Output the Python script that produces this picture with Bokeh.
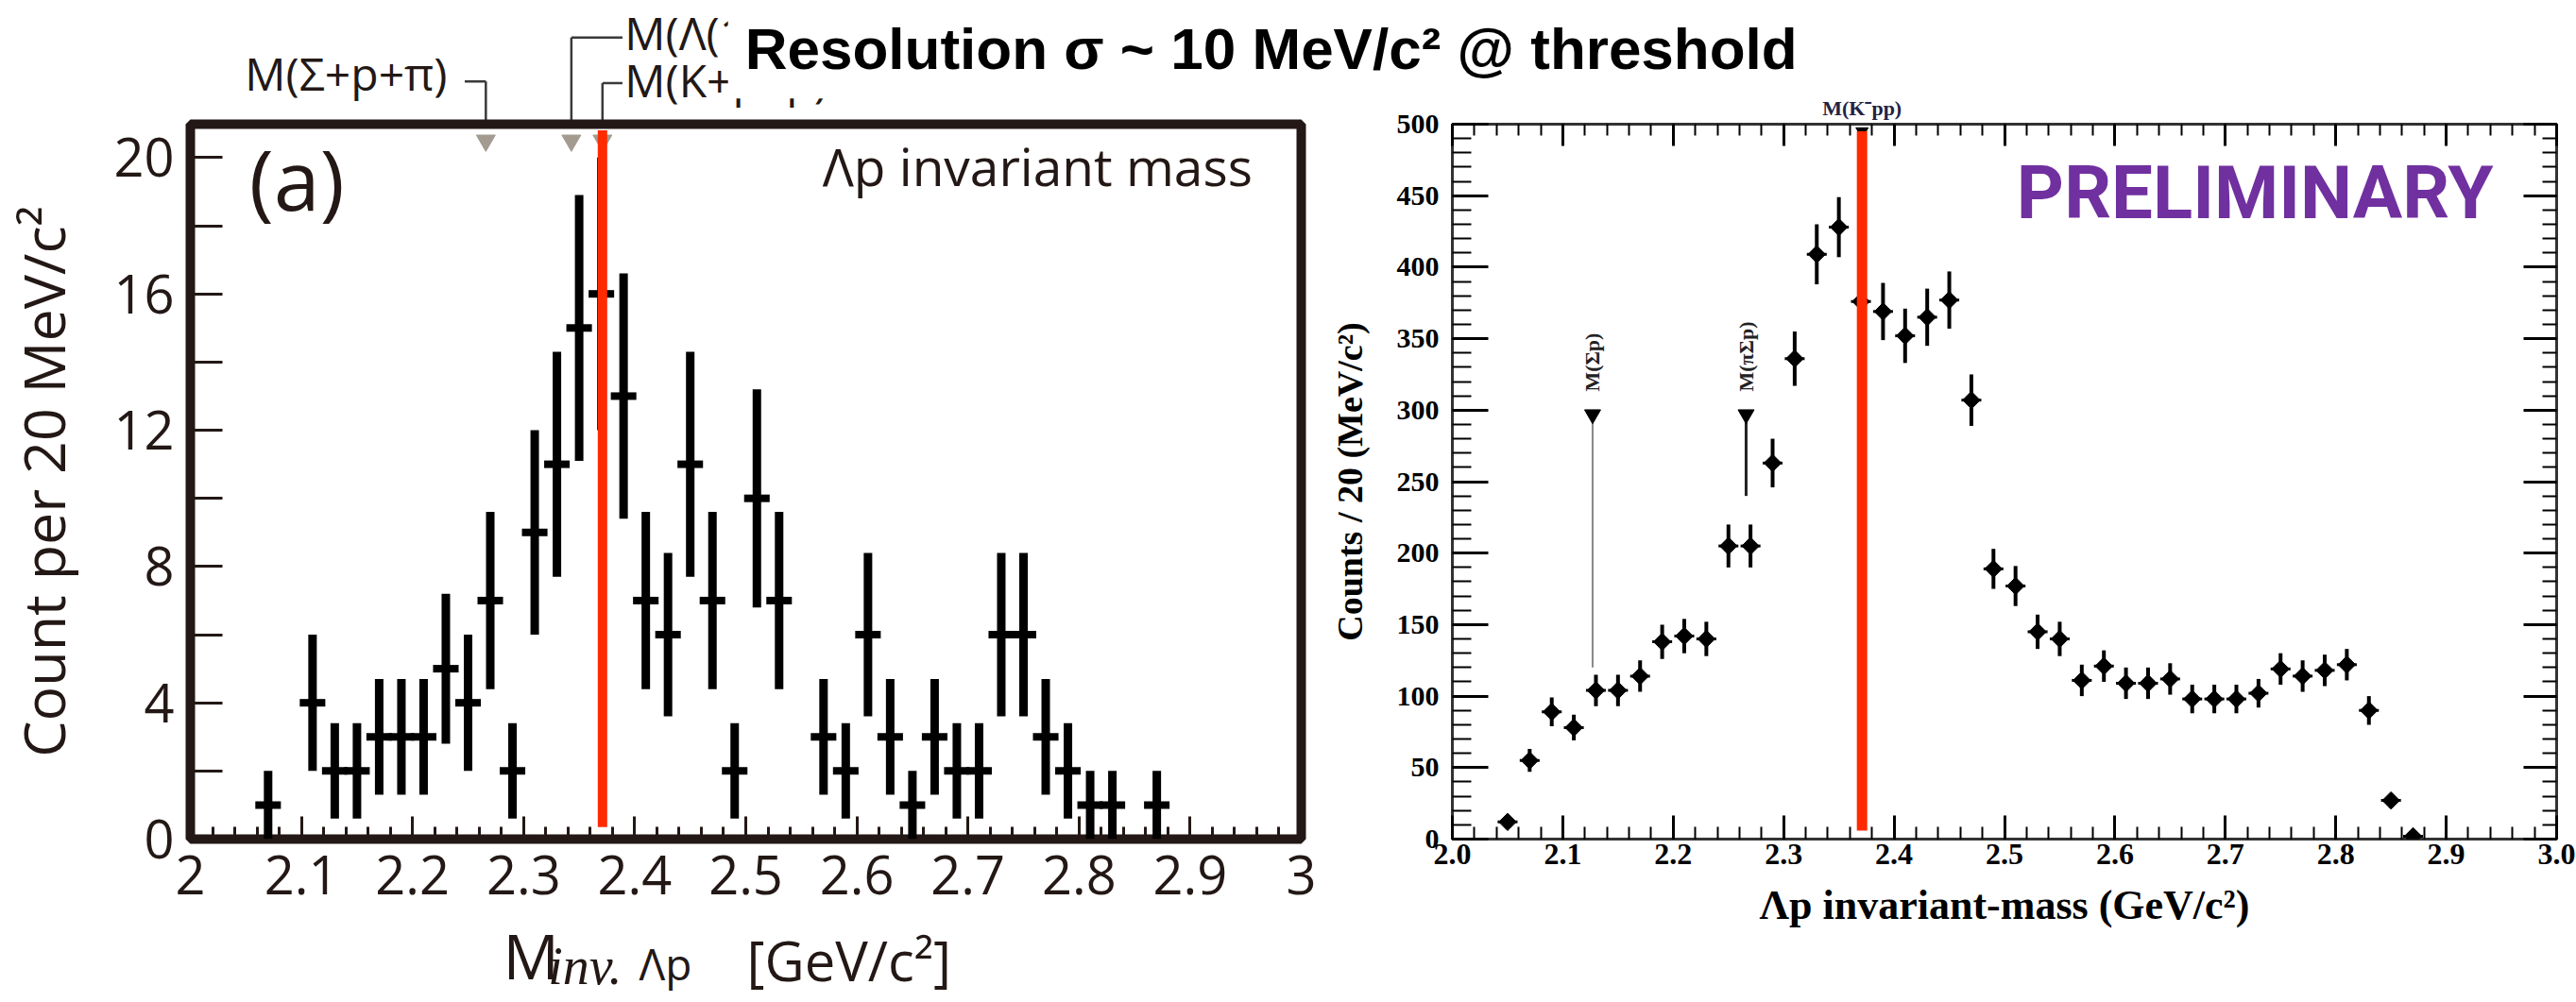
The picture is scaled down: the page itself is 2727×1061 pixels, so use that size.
import numpy as np
from bokeh.plotting import figure
from bokeh.models import (Range1d, FixedTicker, LinearAxis, Label, Arrow, CustomJSTickFormatter,
                          PrintfTickFormatter, ColumnDataSource)
from bokeh.layouts import row, column
from bokeh.embed import file_html
from bokeh.resources import INLINE

# ---------------- data: left panel (Lambda p invariant mass, counts per 20 MeV) ----------------
left_mass = [2.07, 2.11, 2.13, 2.15, 2.17, 2.19, 2.21, 2.23, 2.25, 2.27,
             2.29, 2.31, 2.33, 2.35, 2.37, 2.39, 2.41, 2.43, 2.45, 2.47,
             2.49, 2.51, 2.53, 2.57, 2.59, 2.61, 2.63, 2.65, 2.67, 2.69,
             2.71, 2.73, 2.75, 2.77, 2.79, 2.81, 2.83, 2.87]
left_counts = [1, 4, 2, 2, 3, 3, 3, 5, 4, 7,
               2, 9, 11, 15, 16, 13, 7, 6, 11, 7,
               2, 10, 7, 3, 2, 6, 3, 1, 3, 2,
               2, 6, 6, 3, 2, 1, 1, 1]
left_err = [1.0, 2.0, 1.4, 1.4, 1.7, 1.7, 1.7, 2.2, 2.0, 2.6,
            1.4, 3.0, 3.3, 3.9, 4.0, 3.6, 2.6, 2.4, 3.3, 2.6,
            1.4, 3.2, 2.6, 1.7, 1.4, 2.4, 1.7, 1.0, 1.7, 1.4,
            1.4, 2.4, 2.4, 1.7, 1.4, 1.0, 1.0, 1.0]

# ---------------- data: right panel ----------------
right_mass = [2.05, 2.07, 2.09, 2.11, 2.13, 2.15, 2.17, 2.19, 2.21, 2.23,
              2.25, 2.27, 2.29, 2.31, 2.33, 2.35, 2.37, 2.39, 2.41, 2.43,
              2.45, 2.47, 2.49, 2.51, 2.53, 2.55, 2.57, 2.59, 2.61, 2.63,
              2.65, 2.67, 2.69, 2.71, 2.73, 2.75, 2.77, 2.79, 2.81, 2.83,
              2.85, 2.87]
right_counts = [12, 55, 89, 78, 104, 104, 114, 138, 142, 140,
                205, 205, 263, 336, 409, 428, 376, 369, 352, 365,
                377, 307, 189, 177, 145, 140, 111, 121, 109, 109,
                112, 98, 98, 98, 102, 119, 114, 118, 122, 90,
                27, 2]
right_err = [4, 8, 10, 9, 11, 11, 11, 12, 12, 12,
             15, 15, 17, 19, 21, 21, 20, 20, 19, 20,
             20, 18, 14, 14, 12, 12, 11, 11, 11, 11,
             11, 10, 10, 10, 10, 11, 11, 11, 11, 10,
             5, 1]

# thresholds (GeV/c^2)
m_kpp = 2.371          # M(K- p p)
m_sigma_p = 2.127      # M(Sigma p)
m_pi_sigma_p = 2.266   # M(pi Sigma p)
m_lambda1405_p = 2.343 # M(Lambda(1405)+p)

# ticks
left_xticks = [2.0, 2.1, 2.2, 2.3, 2.4, 2.5, 2.6, 2.7, 2.8, 2.9, 3.0]
left_xminor = [round(2.0 + 0.02 * i, 2) for i in range(51)]
left_yticks = [0, 4, 8, 12, 16, 20]
left_yminor = [2, 6, 10, 14, 18]
right_xticks = left_xticks
right_xminor = left_xminor
right_yticks = [0, 50, 100, 150, 200, 250, 300, 350, 400, 450, 500]
right_yminor = [10 * i for i in range(51)]

DARK = "#231815"
RED = "#ff2a00"
LFONT = "Open Sans"
RFONT = "Liberation Serif"
W, H = 2727, 1061

# ---------------- geometry of the two panels ----------------
L_W, L_LEFT, L_RIGHT, L_TOP, L_BOT = 1400, 201, 23, 130, 170
L_YMAX = 20.98
R_W, R_LEFT, R_RIGHT, R_TOP, R_BOT = W - L_W, 137, 21, 131, 173
L_PX = (L_W - L_LEFT - L_RIGHT)            # px per GeV in left panel
L_PY = (H - L_TOP - L_BOT) / L_YMAX        # px per count in left panel
R_PX = (R_W - R_LEFT - R_RIGHT)
R_PY = (H - R_TOP - R_BOT) / 500.0


def right_to_left(x, y):
    """Convert right-panel data coords to the (extended) left-panel data coords."""
    sx = L_W + R_LEFT + (x - 2.0) * R_PX
    sy = R_TOP + (500.0 - y) * R_PY
    return 2.0 + (sx - L_LEFT) / L_PX, (H - L_BOT - sy) / L_PY


# ======================= BACKGROUND (texts outside the frames) =======================
bg = figure(width=W, height=H, output_backend="svg", toolbar_location=None,
            x_range=Range1d(2.0 - L_LEFT / L_PX, 2.0 + (W - L_LEFT) / L_PX),
            y_range=Range1d(-L_BOT / L_PY, (H - L_BOT) / L_PY),
            x_axis_location=None, y_axis_location=None, min_border=0)
bg.grid.visible = False
bg.outline_line_color = None
bg.background_fill_color = "white"
bg.border_fill_color = "white"

# x-axis title of left panel (composite, M with subscript)
bg.add_layout(Label(x=2.2815, y=-3.30, text="M", text_font=LFONT, text_font_size="66px",
                    text_color=DARK, text_baseline="middle"))
bg.add_layout(Label(x=2.322, y=-3.62, text="inv.", text_font="Liberation Serif", text_font_size="56px",
                    text_font_style="italic", text_color=DARK, text_baseline="middle"))
bg.add_layout(Label(x=2.404, y=-3.54, text="Λp", text_font=LFONT, text_font_size="46px",
                    text_color=DARK, text_baseline="middle"))
bg.add_layout(Label(x=2.5009, y=-3.45, text="[GeV/c²]", text_font=LFONT, text_font_size="58px",
                    text_color=DARK, text_baseline="middle"))

# threshold annotations above the left frame
lead = dict(end=None, line_width=2.5, line_color="#3a3a3a")
bg.add_layout(Arrow(x_start=2.247, y_start=22.2, x_end=m_pi_sigma_p, y_end=22.2, **lead))
bg.add_layout(Arrow(x_start=m_pi_sigma_p, y_start=22.2, x_end=m_pi_sigma_p, y_end=L_YMAX, **lead))
bg.add_layout(Arrow(x_start=m_lambda1405_p, y_start=23.48, x_end=2.389, y_end=23.48, **lead))
bg.add_layout(Arrow(x_start=m_lambda1405_p, y_start=23.48, x_end=m_lambda1405_p, y_end=L_YMAX, **lead))
bg.add_layout(Arrow(x_start=m_kpp, y_start=22.15, x_end=2.389, y_end=22.15, **lead))
bg.add_layout(Arrow(x_start=m_kpp, y_start=22.15, x_end=m_kpp, y_end=L_YMAX, **lead))
bg.add_layout(Label(x=2.2313, y=22.45, text="M(Σ+p+π)", text_font=LFONT, text_font_size="48px",
                    text_color=DARK, text_align="right", text_baseline="middle"))
bg.add_layout(Label(x=2.391, y=23.62, text="M(Λ(1405)+p)", text_font=LFONT, text_font_size="48px",
                    text_color=DARK, text_baseline="middle"))
bg.add_layout(Label(x=2.391, y=22.25, text="M(K+p+p)", text_font=LFONT, text_font_size="48px",
                    text_color=DARK, text_baseline="middle"))

# label of the K-pp threshold above the right frame
kx, ky = right_to_left(m_kpp, 511)
bg.add_layout(Label(x=kx, y=ky, text="M(K⁻pp)", text_font=RFONT,
                    text_font_size="22px", text_font_style="bold", text_color="#222244",
                    text_baseline="middle", text_align="center"))

# big overlay title (white box covers part of the annotations)
bg.add_layout(Label(x=2.484, y=23.15, text="Resolution σ ~ 10 MeV/c² @ threshold",
                    text_font="Liberation Sans", text_font_size="62px", text_font_style="bold",
                    text_color="black", text_baseline="middle",
                    background_fill_color="white", padding=18))

# ======================= LEFT FIGURE =======================
p1 = figure(width=L_W, height=H, x_range=Range1d(2.0, 3.0), y_range=Range1d(0, L_YMAX),
            output_backend="svg", toolbar_location=None,
            min_border_left=L_LEFT, min_border_right=L_RIGHT, min_border_top=L_TOP, min_border_bottom=L_BOT)
p1.grid.visible = False
p1.outline_line_color = DARK
p1.outline_line_width = 10
p1.background_fill_color = "white"
p1.border_fill_color = None

for ax in p1.xaxis + p1.yaxis:
    ax.axis_line_color = None
    ax.major_tick_line_color = DARK
    ax.minor_tick_line_color = DARK
    ax.major_tick_line_width = 3
    ax.minor_tick_line_width = 3
    ax.major_tick_out = 0
    ax.minor_tick_out = 0
    ax.major_label_text_font = LFONT
    ax.major_label_text_font_size = "56px"
    ax.major_label_text_color = DARK

p1.xaxis.ticker = FixedTicker(ticks=left_xticks, minor_ticks=left_xminor)
p1.xaxis.major_tick_in = 24
p1.xaxis.minor_tick_in = 13
p1.xaxis.major_label_standoff = 17
p1.xaxis.major_label_overrides = {2.0: "2", 3.0: "3"}

p1.yaxis.ticker = FixedTicker(ticks=left_yticks, minor_ticks=left_yminor)
p1.yaxis.major_tick_in = 34
p1.yaxis.minor_tick_in = 34
p1.yaxis.major_label_standoff = 17
p1.yaxis.axis_label = "Count per 20 MeV/c²"
p1.yaxis.axis_label_text_font = LFONT
p1.yaxis.axis_label_text_font_size = "61px"
p1.yaxis.axis_label_text_font_style = "normal"
p1.yaxis.axis_label_text_color = DARK
p1.yaxis.axis_label_standoff = 30

lsrc = ColumnDataSource(dict(
    x=left_mass, y=left_counts,
    lo=np.array(left_counts) - np.array(left_err),
    hi=np.array(left_counts) + np.array(left_err),
    xl=np.array(left_mass) - 0.0115, xr=np.array(left_mass) + 0.0115))
p1.segment(x0="x", y0="lo", x1="x", y1="hi", source=lsrc, line_width=9, line_color="black", line_cap="butt")
p1.segment(x0="xl", y0="y", x1="xr", y1="y", source=lsrc, line_width=8, line_color="black", line_cap="butt")

# threshold markers at top of frame
p1.scatter(x=[m_pi_sigma_p, m_lambda1405_p, m_kpp], y=[20.5, 20.5, 20.5], marker="inverted_triangle",
           size=20, fill_color="#a39a90", line_color="#a39a90")
# red K-pp threshold line
p1.segment(x0=[m_kpp], y0=[0.35], x1=[m_kpp], y1=[20.8], line_width=10, line_color=RED, line_cap="butt")

p1.add_layout(Label(x=2.053, y=19.4, text="(a)", text_font=LFONT, text_font_size="88px",
                    text_color=DARK, text_baseline="middle"))
p1.add_layout(Label(x=2.569, y=19.75, text="Λp invariant mass", text_font=LFONT, text_font_size="55px",
                    text_color=DARK, text_baseline="middle"))

# ======================= RIGHT FIGURE =======================
p2 = figure(width=R_W, height=H, x_range=Range1d(2.0, 3.0), y_range=Range1d(0, 500),
            output_backend="svg", toolbar_location=None,
            min_border_left=R_LEFT, min_border_right=R_RIGHT, min_border_top=R_TOP, min_border_bottom=R_BOT)
p2.grid.visible = False
p2.border_fill_color = None
p2.background_fill_color = "white"
p2.outline_line_color = "#333333"
p2.outline_line_width = 3

p2.add_layout(LinearAxis(), "right")
p2.add_layout(LinearAxis(), "above")

for ax in p2.xaxis + p2.yaxis:
    ax.axis_line_color = None
    ax.major_tick_line_color = "black"
    ax.minor_tick_line_color = "black"
    ax.major_tick_line_width = 3
    ax.minor_tick_line_width = 2
    ax.major_tick_out = 0
    ax.minor_tick_out = 0
    ax.major_label_text_font = RFONT
    ax.major_label_text_font_style = "bold"
    ax.major_label_text_font_size = "30px"
    ax.major_label_text_color = "black"

for ax in p2.xaxis:
    ax.ticker = FixedTicker(ticks=right_xticks, minor_ticks=right_xminor)
    ax.major_tick_in = 25
    ax.minor_tick_in = 13
for ax in p2.yaxis:
    ax.ticker = FixedTicker(ticks=right_yticks, minor_ticks=right_yminor)

p2.below[0].formatter = PrintfTickFormatter(format="%.1f")
p2.below[0].major_label_text_font_size = "32px"
p2.below[0].major_label_standoff = 5
p2.below[0].axis_label = "Λp invariant-mass (GeV/c²)"
p2.below[0].axis_label_standoff = 16
p2.below[0].axis_label_text_font_size = "44px"
p2.left[0].major_tick_in = 38
p2.left[0].minor_tick_in = 20
p2.left[0].major_label_standoff = 14
p2.left[0].axis_label = "Counts / 20 (MeV/c²)"
p2.left[0].axis_label_standoff = 26
p2.left[0].axis_label_text_font_size = "38px"
for ax in (p2.below[0], p2.left[0]):
    ax.axis_label_text_font = RFONT
    ax.axis_label_text_font_style = "bold"
    ax.axis_label_text_color = "black"

blank = CustomJSTickFormatter(code="return ''")
p2.right[0].major_tick_in = 35
p2.right[0].minor_tick_in = 15
p2.above[0].major_tick_in = 23
p2.above[0].minor_tick_in = 12
for ax in (p2.right[0], p2.above[0]):
    ax.formatter = blank
    ax.major_label_standoff = 0
    ax.major_label_text_font_size = "8px"

rsrc = ColumnDataSource(dict(
    x=right_mass, y=right_counts,
    lo=np.array(right_counts) - np.array(right_err),
    hi=np.array(right_counts) + np.array(right_err),
    xl=np.array(right_mass) - 0.009, xr=np.array(right_mass) + 0.009))
p2.segment(x0="x", y0="lo", x1="x", y1="hi", source=rsrc, line_width=4, line_color="black")
p2.segment(x0="xl", y0="y", x1="xr", y1="y", source=rsrc, line_width=3, line_color="black")
p2.scatter(x="x", y="y", source=rsrc, marker="square", angle=0.785, size=13,
           fill_color="black", line_color="black")

# threshold annotations
p2.segment(x0=[m_sigma_p], y0=[120], x1=[m_sigma_p], y1=[300], line_width=2, line_color="#888888")
p2.segment(x0=[m_pi_sigma_p], y0=[240], x1=[m_pi_sigma_p], y1=[300], line_width=3, line_color="#222222")
p2.scatter(x=[m_sigma_p, m_pi_sigma_p], y=[297, 297], marker="inverted_triangle", size=17,
           fill_color="black", line_color="black")
p2.scatter(x=[m_kpp], y=[495], marker="inverted_triangle", size=13, fill_color="black", line_color="black")
p2.segment(x0=[m_kpp], y0=[6], x1=[m_kpp], y1=[495], line_width=11, line_color=RED, line_cap="butt")

p2.add_layout(Label(x=m_sigma_p, y=313, text="M(Σp)", angle=1.5708, text_font=RFONT,
                    text_font_size="22px", text_font_style="bold", text_color="#222222",
                    text_baseline="middle", text_align="left"))
p2.add_layout(Label(x=m_pi_sigma_p, y=313, text="M(πΣp)", angle=1.5708, text_font=RFONT,
                    text_font_size="22px", text_font_style="bold", text_color="#222222",
                    text_baseline="middle", text_align="left"))
p2.add_layout(Label(x=2.511, y=452, text="PRELIMINARY", text_font="Roboto",
                    text_font_size="78px", text_font_style="bold", text_color="#7030a0",
                    text_baseline="middle"))

layout = column(bg, row(p1, p2, margin=(-H, 0, 0, 0)))
open("out.html", "w").write(file_html(layout, INLINE))
